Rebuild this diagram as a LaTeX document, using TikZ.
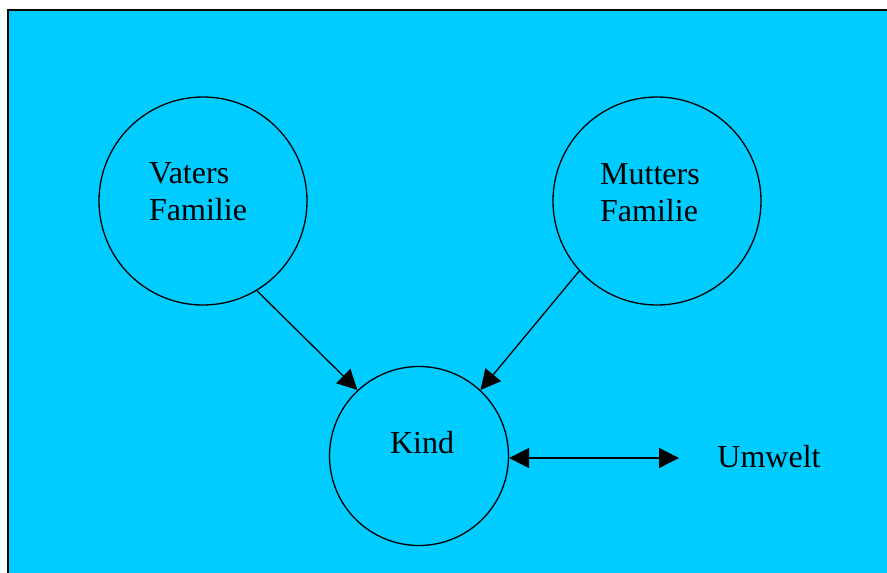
\documentclass[tikz,border=0pt]{standalone}
\usepackage{fontspec}
\setmainfont{Liberation Serif}
\usetikzlibrary{arrows.meta}
\definecolor{bgcyan}{HTML}{00CCFF}
\begin{document}
\begin{tikzpicture}[x=1pt,y=-1pt,
  ring/.style={draw,circle,line width=1.3pt,inner sep=0pt},
  lbl/.style={font=\fontsize{32}{37}\selectfont,inner sep=0pt,align=left},
  arr/.style={line width=1.3pt,-{Triangle[length=20pt,width=20pt]}},
  darr/.style={line width=1.3pt,{Triangle[length=20pt,width=20pt]}-{Triangle[length=20pt,width=20pt]}}]
\useasboundingbox (0,0) rectangle (887,573);
\fill[white] (0,0) rectangle (887,573);
\draw[fill=bgcyan,line width=2pt] (8,600) -- (8,10) -- (900,10);
\fill[bgcyan] (9,11) rectangle (900,600);
\node[ring,minimum size=208pt] (v) at (203,201) {};
\node[ring,minimum size=208pt] (m) at (657,201) {};
\node[ring,minimum size=179pt] (k) at (419,456) {};
\node[lbl,anchor=west] (vt) at (149,192) {Vaters\\Familie};
\node[lbl,anchor=west] (mt) at (600,193) {Mutters\\Familie};
\node[lbl] (kt) at (422,443) {Kind};
\node[lbl] (u) at (769,457) {Umwelt};
\coordinate (ue) at (679,458);
\draw[arr] (v.301) -- (k.133);
\draw[arr] (m.222) -- (k.47);
\draw[darr] (ue -| k.east) -- (ue);
\end{tikzpicture}
\end{document}
